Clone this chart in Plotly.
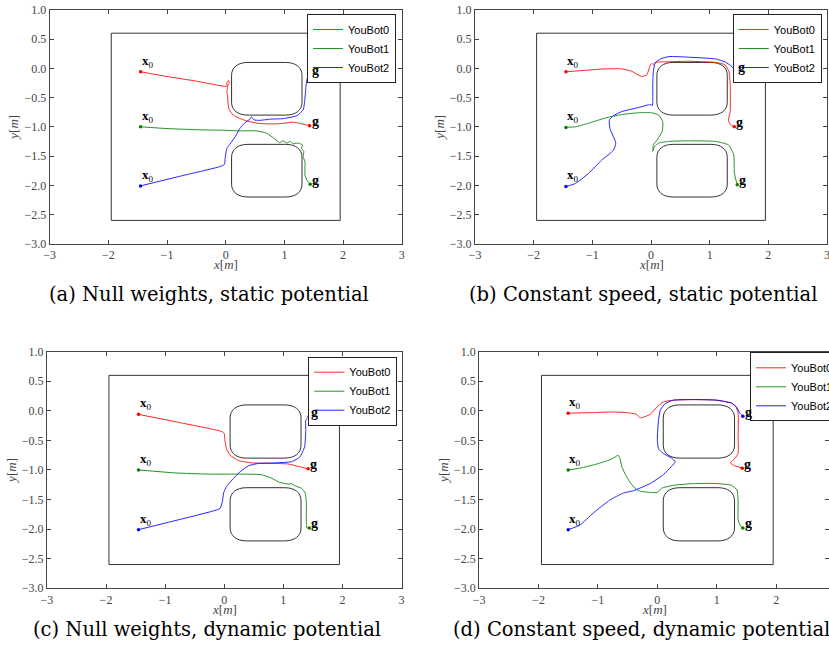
import plotly.graph_objects as go

# ---------------- data ----------------
BOTS = ["YouBot0", "YouBot1", "YouBot2"]
BOT_COLORS = ["#ff0000", "#008000", "#0000ff"]
CAPTIONS = ["(a) Null weights, static potential",
            "(b) Constant speed, static potential",
            "(c) Null weights, dynamic potential",
            "(d) Constant speed, dynamic potential"]
X_TICKS = [-3, -2, -1, 0, 1, 2, 3]
Y_TICKS = [-3.0, -2.5, -2.0, -1.5, -1.0, -0.5, 0.0, 0.5, 1.0]

# arena boundary [x0, x1], [y0, y1]
ARENA_X = [-1.95, 1.95]
ARENA_Y = [-2.6, 0.6]
# obstacles (rounded boxes): x extent, y extents, corner radii
OBST_X = [0.1, 1.3]
OBST_TOP_Y = [-0.8, 0.1]
OBST_BOT_Y = [-2.2, -1.3]
OBST_CORNER = [0.28, 0.22]

# (a) null weights, static potential
a0_x = [-1.45, -1.0, -0.5, 0.0, 0.03, 0.06, 0.05, 0.02, 0.03, 0.02, 0.03, 0.04, 0.06, 0.13, 0.25, 0.36, 0.55, 0.70, 0.85, 0.98, 1.15, 1.26, 1.43]
a0_y = [-0.06, -0.14, -0.22, -0.31, -0.30, -0.25, -0.21, -0.24, -0.33, -0.40, -0.46, -0.60, -0.71, -0.80, -0.86, -0.90, -0.94, -0.95, -0.95, -0.94, -0.92, -0.94, -0.98]
a1_x = [-1.45, -1.0, -0.49, 0.0, 0.24, 0.53, 0.70, 0.84, 0.92, 0.98, 1.04, 1.10, 1.15, 1.22, 1.27, 1.31, 1.29, 1.33, 1.32, 1.35, 1.35, 1.38, 1.44]
a1_y = [-1.0, -1.03, -1.05, -1.06, -1.07, -1.07, -1.11, -1.21, -1.27, -1.24, -1.28, -1.25, -1.29, -1.28, -1.29, -1.31, -1.37, -1.42, -1.51, -1.60, -1.82, -1.91, -1.98]
a2_x = [-1.45, -0.8, -0.10, -0.02, -0.01, 0.02, 0.07, 0.18, 0.24, 0.33, 0.41, 0.44, 0.48, 0.58, 0.75, 0.98, 1.21, 1.32, 1.35, 1.37, 1.39, 1.44]
a2_y = [-2.01, -1.85, -1.68, -1.64, -1.54, -1.37, -1.30, -1.14, -1.03, -0.93, -0.87, -0.83, -0.88, -0.89, -0.87, -0.86, -0.81, -0.71, -0.51, -0.29, -0.17, -0.10]

# (b) constant speed, static potential
b0_x = [-1.45, -1.07, -0.78, -0.50, -0.33, -0.16, -0.07, -0.04, -0.01, 0.02, 0.04, 0.07, 0.24, 0.64, 1.10, 1.26, 1.33, 1.35, 1.35, 1.32, 1.35, 1.42]
b0_y = [-0.06, -0.03, -0.01, -0.01, -0.05, -0.14, -0.11, -0.03, 0.06, 0.08, 0.06, 0.10, 0.11, 0.12, 0.10, 0.06, -0.06, -0.29, -0.74, -0.88, -0.96, -1.0]
b1_x = [-1.45, -1.29, -1.07, -0.78, -0.50, -0.21, 0.01, 0.13, 0.20, 0.19, 0.10, 0.04, 0.03, 0.06, 0.13, 0.30, 0.64, 1.10, 1.32, 1.41, 1.42, 1.44, 1.47]
b1_y = [-1.01, -1.0, -0.94, -0.85, -0.79, -0.76, -0.76, -0.80, -0.91, -1.08, -1.23, -1.31, -1.42, -1.34, -1.28, -1.25, -1.24, -1.25, -1.31, -1.48, -1.77, -1.88, -1.99]
b2_x = [-1.45, -1.29, -1.07, -0.84, -0.64, -0.60, -0.64, -0.70, -0.71, -0.64, -0.50, -0.21, -0.01, 0.02, 0.03, 0.03, 0.04, 0.07, 0.16, 0.30, 0.64, 1.10, 1.26, 1.38, 1.45]
b2_y = [-2.02, -1.97, -1.80, -1.57, -1.40, -1.28, -1.17, -1.03, -0.88, -0.81, -0.74, -0.67, -0.62, -0.64, -0.57, -0.29, -0.06, 0.09, 0.16, 0.20, 0.19, 0.16, 0.11, 0.03, -0.06]

# (c) null weights, dynamic potential
c0_x = [-1.45, -0.8, -0.04, 0.00, 0.01, 0.04, 0.10, 0.24, 0.46, 0.86, 1.09, 1.25, 1.42]
c0_y = [-0.06, -0.19, -0.35, -0.38, -0.49, -0.64, -0.75, -0.84, -0.88, -0.89, -0.90, -0.94, -0.98]
c1_x = [-1.45, -0.83, -0.27, 0.30, 0.63, 0.80, 0.94, 1.09, 1.13, 1.20, 1.31, 1.37, 1.39, 1.39, 1.40, 1.44]
c1_y = [-1.0, -1.05, -1.07, -1.07, -1.08, -1.14, -1.21, -1.24, -1.23, -1.27, -1.31, -1.39, -1.56, -1.90, -1.98, -1.98]
c2_x = [-1.45, -0.21, -0.07, -0.03, -0.01, 0.04, 0.13, 0.27, 0.41, 0.58, 0.86, 1.14, 1.28, 1.36, 1.38, 1.38, 1.42, 1.44]
c2_y = [-2.01, -1.70, -1.65, -1.53, -1.39, -1.28, -1.17, -1.03, -0.93, -0.89, -0.88, -0.86, -0.78, -0.61, -0.33, -0.16, -0.11, -0.09]

# (d) constant speed, dynamic potential
d0_x = [-1.50, -1.08, -0.80, -0.52, -0.35, -0.29, -0.24, -0.12, -0.01, 0.10, 0.27, 0.61, 1.00, 1.25, 1.32, 1.36, 1.36, 1.36, 1.31, 1.23, 1.28, 1.43]
d0_y = [-0.04, -0.03, -0.02, -0.03, -0.06, -0.12, -0.11, -0.06, 0.06, 0.15, 0.18, 0.19, 0.18, 0.13, 0.07, -0.04, -0.44, -0.72, -0.80, -0.88, -0.92, -0.97]
d1_x = [-1.50, -1.30, -1.02, -0.80, -0.71, -0.66, -0.63, -0.60, -0.52, -0.43, -0.32, -0.12, 0.00, 0.07, 0.27, 0.61, 1.00, 1.25, 1.34, 1.36, 1.36, 1.39, 1.44]
d1_y = [-1.0, -0.97, -0.90, -0.83, -0.78, -0.75, -0.80, -0.94, -1.11, -1.25, -1.35, -1.38, -1.38, -1.31, -1.26, -1.23, -1.23, -1.26, -1.34, -1.51, -1.84, -1.93, -1.98]
d2_x = [-1.50, -1.30, -1.08, -0.80, -0.57, -0.40, -0.12, 0.10, 0.24, 0.30, 0.24, 0.10, 0.02, 0.00, 0.02, 0.05, 0.13, 0.27, 0.61, 1.00, 1.25, 1.33, 1.39, 1.44]
d2_y = [-2.01, -1.93, -1.73, -1.51, -1.39, -1.35, -1.23, -1.08, -0.94, -0.86, -0.80, -0.72, -0.64, -0.49, -0.16, 0.01, 0.12, 0.18, 0.19, 0.18, 0.13, 0.07, -0.04, -0.09]

PANELS = [
    [(a0_x, a0_y), (a1_x, a1_y), (a2_x, a2_y)],
    [(b0_x, b0_y), (b1_x, b1_y), (b2_x, b2_y)],
    [(c0_x, c0_y), (c1_x, c1_y), (c2_x, c2_y)],
    [(d0_x, d0_y), (d1_x, d1_y), (d2_x, d2_y)],
]

# ---------------- layout geometry ----------------
W, H = 829, 657
X_DOMAINS = [[49.6 / W, 401.8 / W], [475 / W, 827 / W], [46.9 / W, 401.5 / W], [479.1 / W, 1.0]]
Y_DOMAINS = [[1 - 243.8 / H, 1 - 9.8 / H], [1 - 243.8 / H, 1 - 9.8 / H],
             [1 - 588.2 / H, 1 - 351.7 / H], [1 - 588.2 / H, 1 - 351.7 / H]]
X_RANGES = [[-3, 3], [-3, 3], [-3, 3], [-3, 2.89]]
LEGEND_POS = [(396 / W, 1 - 14 / H, "right"), (821.7 / W, 1 - 14 / H, "right"),
              (397.3 / W, 1 - 356.7 / H, "right"), (750 / W, 1 - 352.3 / H, "left")]
CAPTION_POS = [(209 / W, 1 - 295 / H), (643 / W, 1 - 295 / H),
               (207 / W, 1 - 629 / H), (641 / W, 1 - 629 / H)]

SERIF = "Liberation Serif"
CAP_SERIF = "DejaVu Serif"
SANS = "Liberation Sans"
AXC = "#444444"


def rounded_box_path(xr, yr, c):
    x0, x1 = xr
    y0, y1 = yr
    rx, ry = c
    k = 0.62
    p = [f"M {x0 + rx},{y0}", f"L {x1 - rx},{y0}",
         f"C {x1 - rx * (1 - k)},{y0} {x1},{y0 + ry * (1 - k)} {x1},{y0 + ry}",
         f"L {x1},{y1 - ry}",
         f"C {x1},{y1 - ry * (1 - k)} {x1 - rx * (1 - k)},{y1} {x1 - rx},{y1}",
         f"L {x0 + rx},{y1}",
         f"C {x0 + rx * (1 - k)},{y1} {x0},{y1 - ry * (1 - k)} {x0},{y1 - ry}",
         f"L {x0},{y0 + ry}",
         f"C {x0},{y0 + ry * (1 - k)} {x0 + rx * (1 - k)},{y0} {x0 + rx},{y0}", "Z"]
    return " ".join(p)


fig = go.Figure()
shapes = []
annotations = []
layout = {}

for i, trajs in enumerate(PANELS):
    sfx = "" if i == 0 else str(i + 1)
    xa, ya = "x" + sfx, "y" + sfx
    lg = "legend" if i == 0 else f"legend{i + 1}"
    for j, (tx, ty) in enumerate(trajs):
        fig.add_trace(go.Scatter(
            x=tx, y=ty, mode="lines", name=BOTS[j],
            line=dict(color=BOT_COLORS[j], width=1, shape="spline", smoothing=0.5),
            xaxis=xa, yaxis=ya, legend=lg, opacity=0.85,
        ))
        fig.add_trace(go.Scatter(
            x=[tx[0], tx[-1]], y=[ty[0], ty[-1]], mode="markers", showlegend=False,
            marker=dict(size=3.5, color=BOT_COLORS[j], line=dict(width=0)),
            xaxis=xa, yaxis=ya, hoverinfo="skip",
        ))
        annotations.append(dict(x=tx[0], y=ty[0], xref=xa, yref=ya, text="<b>x</b><sub>0</sub>",
                                showarrow=False, xanchor="left", yanchor="bottom", xshift=-1, yshift=0,
                                font=dict(family=SERIF, size=13, color="black")))
        annotations.append(dict(x=tx[-1], y=ty[-1], xref=xa, yref=ya, text="<b>g</b>",
                                showarrow=False, xanchor="left", yanchor="middle", xshift=0, yshift=4,
                                font=dict(family=SERIF, size=14, color="black")))
    # arena and obstacles
    shapes.append(dict(type="rect", xref=xa, yref=ya, x0=ARENA_X[0], x1=ARENA_X[1],
                       y0=ARENA_Y[0], y1=ARENA_Y[1], line=dict(color="#333333", width=1), layer="below"))
    for oy in (OBST_TOP_Y, OBST_BOT_Y):
        shapes.append(dict(type="path", xref=xa, yref=ya, path=rounded_box_path(OBST_X, oy, OBST_CORNER),
                           line=dict(color="#333333", width=1), layer="below"))

    axis_common = dict(showgrid=False, zeroline=False, showline=True, linecolor=AXC, linewidth=1,
                       mirror="allticks", ticks="inside", ticklen=4, tickcolor=AXC,
                       ticklabeloverflow="allow",
                       tickfont=dict(family=SERIF, size=12, color=AXC))
    layout["xaxis" + sfx] = dict(axis_common, domain=X_DOMAINS[i], range=X_RANGES[i], anchor=ya,
                                 tickvals=X_TICKS, ticktext=[str(v).replace("-", "\u2212") for v in X_TICKS])
    layout["yaxis" + sfx] = dict(axis_common, domain=Y_DOMAINS[i], range=[-3, 1], anchor=xa,
                                 tickvals=Y_TICKS, ticktext=[f"{v:.1f}".replace("-", "\u2212") for v in Y_TICKS],
                                 title=dict(text="<i>y</i>[<i>m</i>]", standoff=2,
                                            font=dict(family=SERIF, size=13, color=AXC)))
    # x axis title, placed just under the tick labels
    annotations.append(dict(x=0.5, y=0, xref=xa + " domain", yref=ya + " domain",
                            text="<i>x</i>[<i>m</i>]", showarrow=False, xanchor="center",
                            yanchor="middle", yshift=-21,
                            font=dict(family=SERIF, size=13, color=AXC)))
    lx, ly, lxa = LEGEND_POS[i]
    layout[lg] = dict(x=lx, y=ly, xanchor=lxa, yanchor="top", xref="paper", yref="paper",
                      bgcolor="white", bordercolor="#222222", borderwidth=1,
                      font=dict(family=SANS, size=11, color="black"), itemwidth=30,
                      tracegroupgap=0)
    cx, cy = CAPTION_POS[i]
    annotations.append(dict(x=cx, y=cy, xref="paper", yref="paper", text=CAPTIONS[i], showarrow=False,
                            xanchor="center", yanchor="middle",
                            font=dict(family=CAP_SERIF, size=19.5, color="black")))

fig.update_layout(width=W, height=H, margin=dict(l=0, r=0, t=0, b=0, autoexpand=False),
                  paper_bgcolor="white", plot_bgcolor="white", shapes=shapes,
                  annotations=annotations, **layout)

fig.write_html("out.html")
